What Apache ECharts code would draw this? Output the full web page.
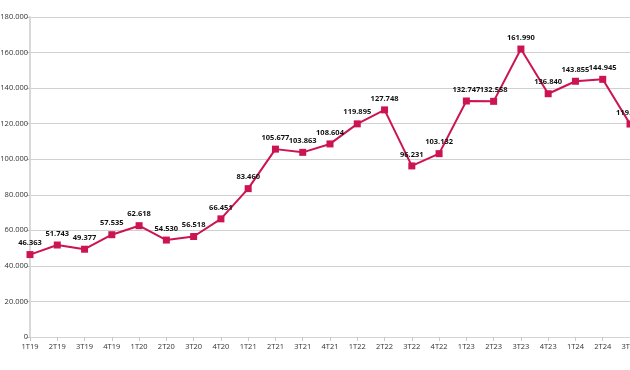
<!DOCTYPE html>
<html><head><meta charset="utf-8">
<script src="https://cdn.jsdelivr.net/npm/echarts@6/dist/echarts.min.js"></script>
<style>html,body{margin:0;padding:0;background:#fff}#c{width:630px;height:370px}</style>
</head><body><div id="c"></div>
<script>
const categories = ['1T19','2T19','3T19','4T19','1T20','2T20','3T20','4T20','1T21','2T21','3T21','4T21','1T22','2T22','3T22','4T22','1T23','2T23','3T23','4T23','1T24','2T24','3T24'];
const values = [46363,51743,49377,57535,62618,54530,56518,66451,83460,105677,103863,108604,119895,127748,96231,103132,132747,132558,161990,136840,143855,144945,119800];
const yTicks = [0,20000,40000,60000,80000,100000,120000,140000,160000,180000];
function fmt(v){ return String(Math.round(v)).replace(/\B(?=(\d{3})+(?!\d))/g,'.'); }
const axisFont = '"Open Sans", sans-serif';
const chart = echarts.init(document.getElementById('c'));
chart.setOption({
  animation:false,
  grid:{left:30,right:0,top:17,bottom:33,containLabel:false,outerBoundsMode:'none'},
  xAxis:{type:'category',data:categories,boundaryGap:false,
    axisLine:{lineStyle:{color:'#d4d4d4',width:1}},
    axisTick:{show:true,alignWithLabel:true,length:4,lineStyle:{color:'#c8c8c8'}},
    axisLabel:{color:'#333',fontSize:7.5,fontFamily:axisFont,margin:6,interval:0,hideOverlap:false}},
  yAxis:{type:'value',min:yTicks[0],max:yTicks[yTicks.length-1],interval:20000,
    axisLine:{show:true,lineStyle:{color:'#d9d9d9',width:2}},
    axisTick:{show:true,length:4,lineStyle:{color:'#c8c8c8'}},
    splitLine:{lineStyle:{color:'#d0d0d0',width:1}},
    axisLabel:{color:'#333',fontSize:7.5,fontFamily:axisFont,margin:2,formatter:fmt}},
  series:[{type:'line',data:values,
    lineStyle:{color:'#cc1451',width:2},
    itemStyle:{color:'#cc1451'},
    symbol:'rect',symbolSize:7,
    label:{show:true,position:'top',distance:4,color:'#111',fontSize:7.5,fontWeight:'bold',fontFamily:axisFont,
      formatter:p=>fmt(p.value)}}]
});
</script></body></html>
